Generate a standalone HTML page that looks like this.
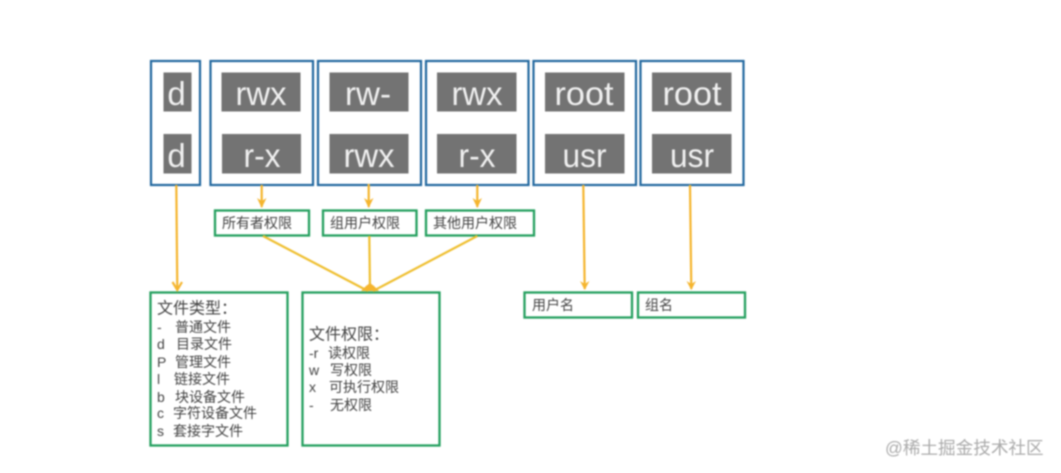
<!DOCTYPE html>
<html lang="zh">
<head>
<meta charset="utf-8">
<title>文件权限</title>
<style>
html,body{margin:0;padding:0;width:1061px;height:473px;background:#fff;overflow:hidden}
svg{display:block;filter:blur(.7px)}
text{font-family:"Liberation Sans","Noto Sans CJK SC",sans-serif}
.b{fill:#fff;stroke:#22689f;stroke-width:2.2}
.g{fill:#fff;stroke:#25a05f;stroke-width:2.3}
.k{fill:#737373}
.w{fill:#f0f0f0;font-size:33px;text-anchor:middle}
.t{fill:#444;font-size:14px;dominant-baseline:central}
.h{fill:#444;font-size:16px;dominant-baseline:central}
.a{stroke:#f5b52e;stroke-width:2.2;fill:none}
.y{stroke:#efbf30;stroke-width:2.2;fill:none}
.p{fill:#f5b52e}
</style>
</head>
<body>
<svg width="1061" height="473" viewBox="0 0 1061 473" xmlns="http://www.w3.org/2000/svg">
<rect width="1061" height="473" fill="#fff"/>

<!-- blue boxes -->
<rect class="b" x="151" y="61" width="49" height="124"/>
<rect class="b" x="210.500" y="61" width="102.500" height="124"/>
<rect class="b" x="318" y="61" width="103" height="124"/>
<rect class="b" x="426" y="61" width="102.500" height="124"/>
<rect class="b" x="533.500" y="61" width="102.500" height="124"/>
<rect class="b" x="640.500" y="61" width="103" height="124"/>

<!-- gray cells -->
<rect class="k" x="163.500" y="72.500" width="28" height="39"/>
<rect class="k" x="163.500" y="134" width="28" height="39.500"/>
<rect class="k" x="221.500" y="72.500" width="79" height="39"/>
<rect class="k" x="222" y="134" width="79" height="39.500"/>
<rect class="k" x="329.500" y="72.500" width="79" height="39"/>
<rect class="k" x="329.500" y="134" width="79" height="39.500"/>
<rect class="k" x="437" y="72.500" width="79.500" height="39"/>
<rect class="k" x="437" y="134" width="79.500" height="39.500"/>
<rect class="k" x="545" y="72.500" width="79.500" height="39"/>
<rect class="k" x="545" y="134" width="79.500" height="39.500"/>
<rect class="k" x="652" y="72.500" width="79.500" height="39"/>
<rect class="k" x="652" y="134" width="79.500" height="39.500"/>

<!-- gray cell text -->
<text class="w" x="176.500" y="105">d</text>
<text class="w" x="176.500" y="167">d</text>
<text class="w" x="261" y="105" textLength="51" lengthAdjust="spacingAndGlyphs">rwx</text>
<text class="w" x="262" y="167" textLength="37" lengthAdjust="spacingAndGlyphs">r-x</text>
<text class="w" x="368" y="105" textLength="46" lengthAdjust="spacingAndGlyphs">rw-</text>
<text class="w" x="369" y="167" textLength="51" lengthAdjust="spacingAndGlyphs">rwx</text>
<text class="w" x="477" y="105" textLength="51" lengthAdjust="spacingAndGlyphs">rwx</text>
<text class="w" x="477" y="167" textLength="37" lengthAdjust="spacingAndGlyphs">r-x</text>
<text class="w" x="584" y="105" textLength="59" lengthAdjust="spacingAndGlyphs">root</text>
<text class="w" x="584.500" y="167" textLength="44" lengthAdjust="spacingAndGlyphs">usr</text>
<text class="w" x="692" y="105" textLength="59" lengthAdjust="spacingAndGlyphs">root</text>
<text class="w" x="692" y="167" textLength="44" lengthAdjust="spacingAndGlyphs">usr</text>

<!-- green label boxes -->
<rect class="g" x="215" y="210.500" width="94" height="25"/>
<rect class="g" x="323" y="210.500" width="93.500" height="25"/>
<rect class="g" x="426" y="210.500" width="108" height="25"/>
<rect class="g" x="524.500" y="292.500" width="107.500" height="25"/>
<rect class="g" x="638" y="292.500" width="107" height="25"/>
<rect class="g" x="150.500" y="292.500" width="137" height="153"/>
<rect class="g" x="302.500" y="292.500" width="137" height="153"/>

<!-- connectors -->
<path class="a" d="M176.300 185L177.300 289"/>
<path class="a" d="M172.500 282L177.300 290L182 282"/>
<path class="a" d="M261.700 185V207"/>
<path class="p" d="M257 198L261.700 208L266.500 198L261.700 201Z"/>
<path class="a" d="M368.700 184V207"/>
<path class="p" d="M364 198L368.700 208L373.500 198L368.700 201Z"/>
<path class="a" d="M477.300 185V207"/>
<path class="p" d="M472.500 198L477.300 208L482 198L477.300 201Z"/>
<path class="a" d="M583.300 185L584.700 289"/>
<path class="p" d="M580 281L584.700 290L589.500 281L584.700 284Z"/>
<path class="a" d="M690 185L691.300 289"/>
<path class="p" d="M686.500 281L691.300 290L696 281L691.300 284Z"/>
<path class="y" d="M263 236L368 291"/>
<path class="y" d="M369.300 236L370 290"/>
<path class="y" d="M477.300 236L373 291"/>
<path class="p" d="M361 291L366 286L370 283L374 286L379 291Z"/>

<!-- labels -->
<text class="t" x="222" y="223">所有者权限</text>
<text class="t" x="330" y="223">组用户权限</text>
<text class="t" x="433" y="223">其他用户权限</text>
<text class="t" x="532" y="305">用户名</text>
<text class="t" x="645" y="305">组名</text>

<!-- file type list -->
<text class="h" x="157" y="309">文件类型：</text>
<text class="t" x="157" y="327">-</text><text class="t" x="175" y="327">普通文件</text>
<text class="t" x="157" y="344">d</text><text class="t" x="176" y="344">目录文件</text>
<text class="t" x="157" y="362">P</text><text class="t" x="175" y="362">管理文件</text>
<text class="t" x="157" y="379">l</text><text class="t" x="174" y="379">链接文件</text>
<text class="t" x="157" y="397">b</text><text class="t" x="175" y="397">块设备文件</text>
<text class="t" x="157" y="413">c</text><text class="t" x="173" y="413">字符设备文件</text>
<text class="t" x="157" y="431">s</text><text class="t" x="173" y="431">套接字文件</text>

<!-- permission list -->
<text class="h" x="309" y="335">文件权限：</text>
<text class="t" x="309" y="353">-r</text><text class="t" x="328" y="353">读权限</text>
<text class="t" x="309" y="370">w</text><text class="t" x="330" y="370">写权限</text>
<text class="t" x="309" y="387">x</text><text class="t" x="329" y="387">可执行权限</text>
<text class="t" x="309" y="405">-</text><text class="t" x="330" y="405">无权限</text>

<!-- watermark -->
<text x="885" y="454" fill="#ababab" font-size="17.600">@稀土掘金技术社区</text>
</svg>
</body>
</html>
